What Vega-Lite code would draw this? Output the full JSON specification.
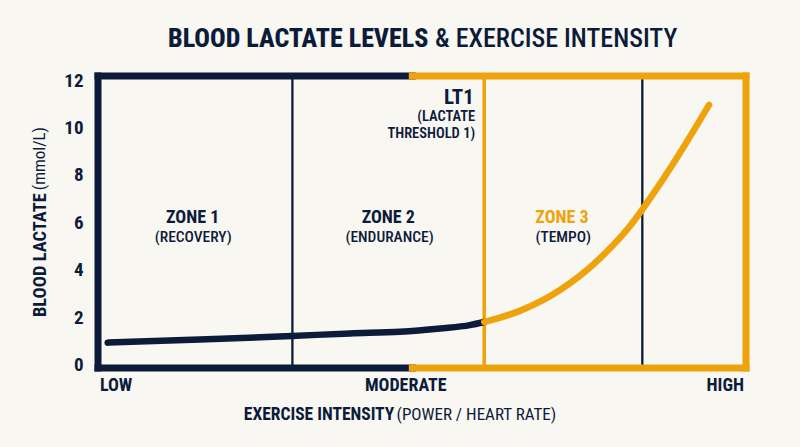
{
  "$schema": "https://vega.github.io/schema/vega-lite/v6.json",
  "autosize": {"type": "none"},
  "width": 648,
  "height": 292,
  "padding": {"left": 98, "top": 76, "right": 54, "bottom": 79},
  "background": "#f8f7f2",
  "config": {
    "view": {"stroke": null},
    "font": "Roboto Condensed, Liberation Sans Narrow, DejaVu Sans Condensed, Roboto",
    "text": {"font": "Roboto Condensed, Liberation Sans Narrow, DejaVu Sans Condensed, Roboto"}
  },
  "datasets": {
    "curve": [
      {"intensity": 1.5, "lactate": 0.92, "segment": "below LT1"},
      {"intensity": 15.7, "lactate": 1.05, "segment": "below LT1"},
      {"intensity": 29.9, "lactate": 1.2, "segment": "below LT1"},
      {"intensity": 38.9, "lactate": 1.31, "segment": "below LT1"},
      {"intensity": 46.6, "lactate": 1.38, "segment": "below LT1"},
      {"intensity": 52.8, "lactate": 1.52, "segment": "below LT1"},
      {"intensity": 57.4, "lactate": 1.66, "segment": "below LT1"},
      {"intensity": 59.6, "lactate": 1.79, "segment": "below LT1"},
      {"intensity": 59.6, "lactate": 1.79, "segment": "above LT1"},
      {"intensity": 65.1, "lactate": 2.26, "segment": "above LT1"},
      {"intensity": 71.3, "lactate": 3.14, "segment": "above LT1"},
      {"intensity": 77.5, "lactate": 4.49, "segment": "above LT1"},
      {"intensity": 82.1, "lactate": 5.84, "segment": "above LT1"},
      {"intensity": 86.7, "lactate": 7.61, "segment": "above LT1"},
      {"intensity": 89.8, "lactate": 8.92, "segment": "above LT1"},
      {"intensity": 94.3, "lactate": 10.95, "segment": "above LT1"}
    ],
    "border": [
      {"x1": 0, "x2": 0, "y1": -0.15, "y2": 12.17, "part": "low"},
      {"x1": 0, "x2": 48.5, "y1": 12.17, "y2": 12.17, "part": "low"},
      {"x1": 0, "x2": 48.5, "y1": -0.15, "y2": -0.15, "part": "low"},
      {"x1": 48.5, "x2": 100, "y1": 12.17, "y2": 12.17, "part": "high"},
      {"x1": 48.5, "x2": 100, "y1": -0.15, "y2": -0.15, "part": "high"},
      {"x1": 100, "x2": 100, "y1": -0.15, "y2": 12.17, "part": "high"}
    ]
  },
  "layer": [
    {
      "data": {"values": [{"x": 30}, {"x": 84}]},
      "mark": {"type": "rule", "color": "#0d1b3a", "strokeWidth": 2.3},
      "encoding": {
        "x": {"field": "x", "type": "quantitative", "scale": {"domain": [0, 100], "nice": false, "zero": false}, "axis": null},
        "y": {"datum": -0.15, "type": "quantitative", "scale": {"domain": [-0.15, 12.17], "nice": false, "zero": false}},
        "y2": {"datum": 12.17}
      }
    },
    {
      "data": {"values": [{"x": 59.6}]},
      "mark": {"type": "rule", "color": "#eea20c", "strokeWidth": 3.5},
      "encoding": {
        "x": {"field": "x", "type": "quantitative"},
        "y": {"datum": -0.15, "type": "quantitative"},
        "y2": {"datum": 12.17}
      }
    },
    {
      "data": {"name": "border"},
      "mark": {"type": "rule", "strokeWidth": 7, "strokeCap": "square"},
      "encoding": {
        "x": {"field": "x1", "type": "quantitative"},
        "x2": {"field": "x2"},
        "y": {"field": "y1", "type": "quantitative"},
        "y2": {"field": "y2"},
        "color": {"field": "part", "type": "nominal", "scale": {"domain": ["low", "high"], "range": ["#0d1b3a", "#eea20c"]}, "legend": null},
        "order": {"field": "part", "sort": "descending"}
      }
    },
    {
      "data": {"name": "curve"},
      "mark": {"type": "line", "interpolate": "monotone", "strokeWidth": 6.5, "strokeCap": "round"},
      "encoding": {
        "x": {"field": "intensity", "type": "quantitative"},
        "y": {"field": "lactate", "type": "quantitative", "axis": {"values": [0, 2, 4, 6, 8, 10, 12], "title": null, "domain": false, "ticks": false, "grid": false, "labelPadding": 15, "labelFontSize": 19, "labelFontWeight": "bold", "labelColor": "#0d1b3a", "labelFont": "Roboto Condensed, Liberation Sans Narrow, DejaVu Sans Condensed, Roboto"}},
        "color": {"field": "segment", "type": "nominal", "scale": {"domain": ["below LT1", "above LT1"], "range": ["#0d1b3a", "#eea20c"]}, "legend": null}
      }
    },
    {
      "data": {"values": [
        {"label": "ZONE 1", "x": 14.6, "y": 6.18},
        {"label": "ZONE 2", "x": 44.8, "y": 6.18},
        {"label": "ZONE 3", "x": 71.6, "y": 6.18}
      ]},
      "mark": {"type": "text", "fontSize": 18, "fontWeight": "bold", "baseline": "middle", "align": "center"},
      "encoding": {
        "x": {"field": "x", "type": "quantitative"},
        "y": {"field": "y", "type": "quantitative"},
        "text": {"field": "label"},
        "color": {"condition": {"test": "datum.label === 'ZONE 3'", "value": "#eea20c"}, "value": "#0d1b3a"}
      }
    },
    {
      "data": {"values": [
        {"label": "(RECOVERY)", "x": 14.7, "y": 5.38},
        {"label": "(ENDURANCE)", "x": 45.0, "y": 5.38},
        {"label": "(TEMPO)", "x": 71.8, "y": 5.38}
      ]},
      "mark": {"type": "text", "fontSize": 15.5, "fontWeight": 500, "baseline": "middle", "align": "center", "color": "#0d1b3a"},
      "encoding": {
        "x": {"field": "x", "type": "quantitative"},
        "y": {"field": "y", "type": "quantitative"},
        "text": {"field": "label"}
      }
    },
    {
      "data": {"values": [{"label": "LT1", "x": 58.0, "y": 11.24}]},
      "mark": {"type": "text", "fontSize": 21, "fontWeight": "bold", "baseline": "middle", "align": "right", "color": "#0d1b3a"},
      "encoding": {
        "x": {"field": "x", "type": "quantitative"},
        "y": {"field": "y", "type": "quantitative"},
        "text": {"field": "label"}
      }
    },
    {
      "data": {"values": [
        {"label": "(LACTATE", "x": 58.2, "y": 10.44},
        {"label": "THRESHOLD 1)", "x": 58.2, "y": 9.72}
      ]},
      "mark": {"type": "text", "fontSize": 14.5, "fontWeight": 600, "baseline": "middle", "align": "right", "color": "#0d1b3a"},
      "encoding": {
        "x": {"field": "x", "type": "quantitative"},
        "y": {"field": "y", "type": "quantitative"},
        "text": {"field": "label"}
      }
    },
    {
      "data": {"values": [{"label": "LOW", "x": 0.3, "y": -0.93}]},
      "mark": {"type": "text", "fontSize": 18, "fontWeight": "bold", "baseline": "middle", "align": "left", "color": "#0d1b3a"},
      "encoding": {"x": {"field": "x", "type": "quantitative"}, "y": {"field": "y", "type": "quantitative"}, "text": {"field": "label"}}
    },
    {
      "data": {"values": [{"label": "MODERATE", "x": 47.5, "y": -0.93}]},
      "mark": {"type": "text", "fontSize": 18, "fontWeight": "bold", "baseline": "middle", "align": "center", "color": "#0d1b3a"},
      "encoding": {"x": {"field": "x", "type": "quantitative"}, "y": {"field": "y", "type": "quantitative"}, "text": {"field": "label"}}
    },
    {
      "data": {"values": [{"label": "HIGH", "x": 99.7, "y": -0.93}]},
      "mark": {"type": "text", "fontSize": 18, "fontWeight": "bold", "baseline": "middle", "align": "right", "color": "#0d1b3a"},
      "encoding": {"x": {"field": "x", "type": "quantitative"}, "y": {"field": "y", "type": "quantitative"}, "text": {"field": "label"}}
    },
    {
      "data": {"values": [{"label": "EXERCISE INTENSITY", "x": 22.5, "y": -2.13}]},
      "mark": {"type": "text", "fontSize": 17.5, "fontWeight": "bold", "baseline": "middle", "align": "left", "color": "#0d1b3a"},
      "encoding": {"x": {"field": "x", "type": "quantitative"}, "y": {"field": "y", "type": "quantitative"}, "text": {"field": "label"}}
    },
    {
      "data": {"values": [{"label": "(POWER / HEART RATE)", "x": 70.7, "y": -2.13}]},
      "mark": {"type": "text", "fontSize": 17, "fontWeight": "normal", "baseline": "middle", "align": "right", "color": "#0d1b3a"},
      "encoding": {"x": {"field": "x", "type": "quantitative"}, "y": {"field": "y", "type": "quantitative"}, "text": {"field": "label"}}
    },
    {
      "data": {"values": [{"label": "BLOOD LACTATE", "x": -9.0, "y": 2.0}]},
      "mark": {"type": "text", "fontSize": 18.5, "fontWeight": "bold", "baseline": "middle", "align": "left", "angle": 270, "color": "#0d1b3a"},
      "encoding": {"x": {"field": "x", "type": "quantitative"}, "y": {"field": "y", "type": "quantitative"}, "text": {"field": "label"}}
    },
    {
      "data": {"values": [{"label": "(mmol/L)", "x": -9.0, "y": 10.02}]},
      "mark": {"type": "text", "fontSize": 17, "fontWeight": "normal", "baseline": "middle", "align": "right", "angle": 270, "color": "#0d1b3a"},
      "encoding": {"x": {"field": "x", "type": "quantitative"}, "y": {"field": "y", "type": "quantitative"}, "text": {"field": "label"}}
    },
    {
      "data": {"values": [{"label": "BLOOD LACTATE LEVELS", "x": 10.8, "y": 13.73}]},
      "mark": {"type": "text", "fontSize": 26, "fontWeight": 800, "baseline": "middle", "align": "left", "color": "#0d1b3a"},
      "encoding": {"x": {"field": "x", "type": "quantitative"}, "y": {"field": "y", "type": "quantitative"}, "text": {"field": "label"}}
    },
    {
      "data": {"values": [{"label": "& EXERCISE INTENSITY", "x": 89.4, "y": 13.73}]},
      "mark": {"type": "text", "fontSize": 26, "fontWeight": 500, "baseline": "middle", "align": "right", "color": "#0d1b3a"},
      "encoding": {"x": {"field": "x", "type": "quantitative"}, "y": {"field": "y", "type": "quantitative"}, "text": {"field": "label"}}
    }
  ]
}
